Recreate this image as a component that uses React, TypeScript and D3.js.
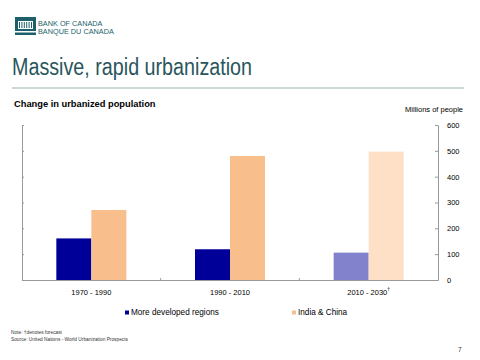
import React, { useEffect, useRef } from "react";
import * as d3 from "d3";

const periods = ["1970 - 1990", "1990 - 2010", "2010 - 2030"];
const seriesNames = ["More developed regions", "India & China"];
const developed = [161, 119, 106];
const indiaChina = [271, 480, 497];
const yTicks = [0, 100, 200, 300, 400, 500, 600];

const App: React.FC = () => {
  const svgRef = useRef<SVGSVGElement>(null);

  useEffect(() => {
    if (!svgRef.current) return;
    const width = 480;
    const height = 360;
    const margin = { top: 125, right: 42, bottom: 80, left: 22 };
    const font = "Arial, 'Liberation Sans', sans-serif";

    const svg = d3.select(svgRef.current).attr("width", width).attr("height", height);
    svg.selectAll("*").remove();

    // Header: logo + title
    const logo = svg.append("g").attr("transform", "translate(15,17)");
    logo.append("rect").attr("width", 21).attr("height", 18).attr("fill", "#1d5f6a");
    logo.append("rect").attr("x", 3).attr("y", 4).attr("width", 15).attr("height", 8).attr("fill", "#ffffff");
    for (let i = 0; i < 6; i++) {
      logo.append("rect").attr("x", 4 + i * 2.4).attr("y", 5).attr("width", 1).attr("height", 6).attr("fill", "#1d5f6a");
    }
    logo.append("rect").attr("x", 0).attr("y", 14).attr("width", 21).attr("height", 1.5).attr("fill", "#ffffff");

    svg.append("text").attr("x", 38).attr("y", 26).text("BANK OF CANADA")
      .attr("font-family", font).attr("font-size", 7.3).attr("fill", "#1d5f6a");
    svg.append("text").attr("x", 38).attr("y", 33.5).text("BANQUE DU CANADA")
      .attr("font-family", font).attr("font-size", 7.3).attr("fill", "#1d5f6a");

    svg.append("text").attr("x", 12).attr("y", 75).text("Massive, rapid urbanization")
      .attr("font-family", font).attr("font-size", 23).attr("fill", "#29565c")
      .attr("textLength", 240).attr("lengthAdjust", "spacingAndGlyphs");
    svg.append("line").attr("x1", 12).attr("x2", 464).attr("y1", 88).attr("y2", 88)
      .attr("stroke", "#b9cbcb").attr("stroke-width", 1.5);

    svg.append("text").attr("x", 14).attr("y", 107).text("Change in urbanized population")
      .attr("font-family", font).attr("font-size", 9.3).attr("font-weight", "bold").attr("fill", "#000");
    svg.append("text").attr("x", 463).attr("y", 112).attr("text-anchor", "end").text("Millions of people")
      .attr("font-family", font).attr("font-size", 7.5).attr("fill", "#000");

    // Scales
    const x0 = d3.scaleBand<string>().domain(periods)
      .range([margin.left, width - margin.right]).paddingInner(0).paddingOuter(0);
    const groupW = 70;
    const x1 = d3.scaleBand<string>().domain(seriesNames).range([0, groupW]);
    const y = d3.scaleLinear().domain([0, 600]).range([height - margin.bottom, margin.top]);

    const colors = [
      ["#000099", "#000099", "#8282cc"],
      ["#f8bf8d", "#f8bf8d", "#fde0c6"],
    ];
    const values = [developed, indiaChina];

    const groups = svg.append("g");
    periods.forEach((p, pi) => {
      const gx = (x0(p) as number) + (x0.bandwidth() - groupW) / 2;
      seriesNames.forEach((s, si) => {
        const v = values[si][pi];
        groups.append("rect")
          .attr("x", gx + (x1(s) as number))
          .attr("y", y(v))
          .attr("width", x1.bandwidth())
          .attr("height", y(0) - y(v))
          .attr("fill", colors[si][pi]);
      });
    });

    // Left axis (no labels)
    const left = svg.append("g").attr("transform", `translate(${margin.left},0)`)
      .call(d3.axisRight(y).tickValues(yTicks).tickSize(2).tickFormat(() => ""));
    left.select(".domain").attr("stroke", "#999");
    left.selectAll(".tick line").attr("stroke", "#999");

    // Right axis
    const right = svg.append("g").attr("transform", `translate(${width - margin.right},0)`)
      .call(d3.axisRight(y).tickValues(yTicks).tickSizeInner(-3).tickSizeOuter(0).tickPadding(9));
    right.select(".domain").attr("stroke", "#999");
    right.selectAll(".tick line").attr("stroke", "#999");
    right.selectAll(".tick text").attr("font-family", font).attr("font-size", 7.5).attr("fill", "#000");

    // Bottom axis
    const bottom = svg.append("g").attr("transform", `translate(0,${y(0)})`)
      .call(d3.axisBottom(x0).tickSize(0).tickPadding(10));
    bottom.select(".domain").attr("stroke", "#999");
    bottom.selectAll(".tick text").attr("font-family", font).attr("font-size", 7.5).attr("fill", "#000");
    // category separators
    periods.slice(1).forEach((p) => {
      const sx = x0(p) as number;
      bottom.append("line").attr("x1", sx).attr("x2", sx).attr("y1", 0).attr("y2", -2).attr("stroke", "#999");
    });
    bottom.selectAll<SVGTextElement, string>(".tick text")
      .filter((d) => d === "2010 - 2030")
      .append("tspan").attr("dy", -4).attr("font-size", 5).text("†");

    // Legend
    const legend = svg.append("g").attr("font-family", font).attr("font-size", 8.2);
    const legendX = [125, 292];
    seriesNames.forEach((s, si) => {
      legend.append("rect").attr("x", legendX[si]).attr("y", 310.5).attr("width", 4).attr("height", 4)
        .attr("fill", colors[si][0]);
      legend.append("text").attr("x", legendX[si] + 6).attr("y", 315).text(s).attr("fill", "#000");
    });

    // Notes
    svg.append("text").attr("x", 11).attr("y", 334).attr("font-family", font).attr("font-size", 4.8)
      .attr("fill", "#333").text("Note: †denotes forecast");
    svg.append("text").attr("x", 11).attr("y", 341).attr("font-family", font).attr("font-size", 4.8)
      .attr("fill", "#333").text("Source: United Nations - World Urbanization Prospects");
    svg.append("text").attr("x", 458).attr("y", 352).attr("font-family", font).attr("font-size", 6.5)
      .attr("fill", "#333").text("7");
  }, []);

  return (
    <div style={{ position: "absolute", left: 0, top: 0 }}>
      <svg ref={svgRef}></svg>
    </div>
  );
};

export default App;
